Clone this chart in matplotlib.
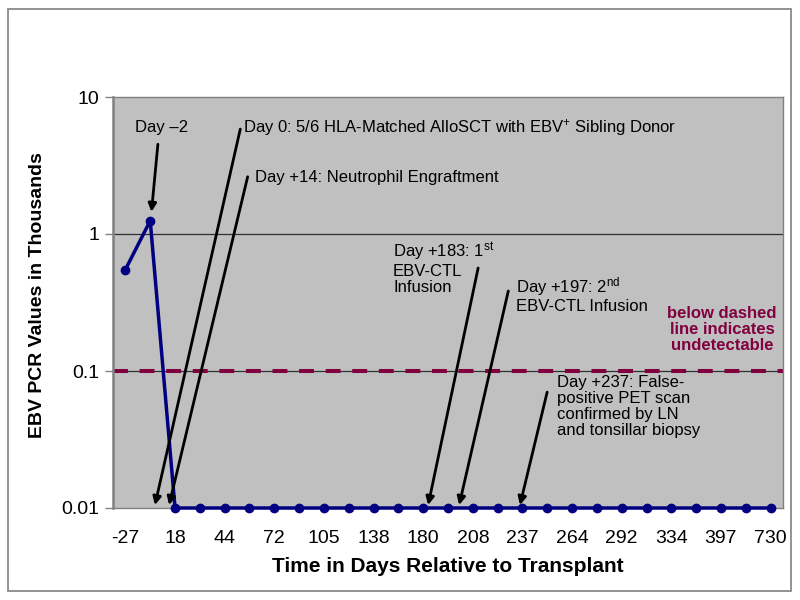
import matplotlib
matplotlib.use("Agg")
import matplotlib.pyplot as plt
from matplotlib.patches import Rectangle

plt.rcParams['font.family'] = ['Liberation Sans', 'DejaVu Sans']
plt.rcParams['mathtext.fontset'] = 'custom'
plt.rcParams['mathtext.rm'] = 'Liberation Sans'
plt.rcParams['mathtext.it'] = 'Liberation Sans:italic'
plt.rcParams['mathtext.bf'] = 'Liberation Sans:bold'

# ---- data ----
tick_labels = ['-27', '', '18', '', '44', '', '72', '', '105', '', '138', '', '180', '',
               '208', '', '237', '', '264', '', '292', '', '334', '', '397', '', '730']
ebv_values = [0.55, 1.25, 0.01, 0.01, 0.01, 0.01, 0.01, 0.01, 0.01, 0.01, 0.01, 0.01,
              0.01, 0.01, 0.01, 0.01, 0.01, 0.01, 0.01, 0.01, 0.01, 0.01, 0.01, 0.01,
              0.01, 0.01, 0.01]
detection_limit = 0.1
y_ticks = [0.01, 0.1, 1, 10]
y_tick_labels = ['0.01', '0.1', '1', '10']

# events: label, text position (axes fraction), alignment, line start (axes fraction), arrow tip (category index, value)
events = [
    ('Day \u20132', (0.073, 0.927), 'center', (0.067, 0.885), (1.05, 1.45)),
    ('Day 0: 5/6 HLA-Matched AlloSCT with EBV$^{+}$ Sibling Donor', (0.194, 0.925), 'left', (0.190, 0.922), (1.19, 0.0105)),
    ('Day +14: Neutrophil Engraftment', (0.212, 0.805), 'left', (0.201, 0.806), (1.76, 0.0105)),
    ('Day +183: 1$^{\\mathrm{st}}$\nEBV-CTL\nInfusion', (0.418, 0.652), 'left-top', (0.545, 0.584), (12.2, 0.0105)),
    ('Day +197: 2$^{\\mathrm{nd}}$\nEBV-CTL Infusion', (0.601, 0.567), 'left-top', (0.590, 0.528), (13.45, 0.0105)),
    ('Day +237: False-\npositive PET scan\nconfirmed by LN\nand tonsillar biopsy', (0.663, 0.324), 'left-top', (0.648, 0.282), (15.9, 0.0105)),
]

fig = plt.figure(figsize=(8, 6), dpi=100)
fig.patches.append(Rectangle((8 / 800, 9 / 600), 783 / 800, 582 / 600, transform=fig.transFigure,
                             fill=False, edgecolor='#808080', linewidth=1.2))
ax = fig.add_axes([113 / 800, 92 / 600, 670 / 800, 411 / 600])
ax.set_facecolor('#C0C0C0')

x = list(range(len(ebv_values)))
ax.plot(x, ebv_values, color='#000080', linewidth=2.5, marker='o', markersize=6, zorder=4, clip_on=False)

ax.set_yscale('log')
ax.set_ylim(0.01, 10)
ax.set_xlim(-0.5, len(ebv_values) - 0.5)
ax.set_yticks(y_ticks)
ax.set_yticklabels(y_tick_labels)
ax.minorticks_off()
ax.set_xticks(x)
ax.set_xticklabels(tick_labels)
ax.tick_params(axis='x', length=0, labelsize=14, pad=16)
ax.tick_params(axis='y', length=6, width=1, color='#808080', labelsize=14, pad=4)
for s in ax.spines.values():
    s.set_color('#808080')
    s.set_linewidth(1)
ax.spines['left'].set_linewidth(1.8)

for v in [1, 0.1]:
    ax.axhline(v, color='#303030', linewidth=0.9, zorder=1)

ax.axhline(detection_limit, color='#800040', linewidth=2.9, dashes=(3.7, 2.9), zorder=2)
ax.text(0.909, 0.492, 'below dashed\nline indicates\nundetectable', transform=ax.transAxes,
        ha='center', va='top', fontsize=12, fontweight='bold', color='#800040', linespacing=1.1)

for label, tpos, align, lstart, tip in events:
    if align == 'center':
        ax.text(tpos[0], tpos[1], label, transform=ax.transAxes, ha='center', va='center', fontsize=12)
    elif align == 'left':
        ax.text(tpos[0], tpos[1], label, transform=ax.transAxes, ha='left', va='center', fontsize=12)
    else:
        ax.text(tpos[0], tpos[1], label, transform=ax.transAxes, ha='left', va='top', fontsize=12,
                linespacing=1.1)
    ax.annotate('', xy=tip, xycoords='data', xytext=lstart, textcoords='axes fraction',
                arrowprops=dict(arrowstyle='-|>', color='black', lw=2, mutation_scale=12,
                                shrinkA=0, shrinkB=0), zorder=5)

fig.text(38 / 800, 1 - 295 / 600, 'EBV PCR Values in Thousands', rotation=90,
         ha='center', va='center', fontsize=14, fontweight='bold')
fig.text(448 / 800, 1 - 567 / 600, 'Time in Days Relative to Transplant', ha='center', va='center',
         fontsize=15, fontweight='bold')

fig.savefig('out.png', dpi=100)
